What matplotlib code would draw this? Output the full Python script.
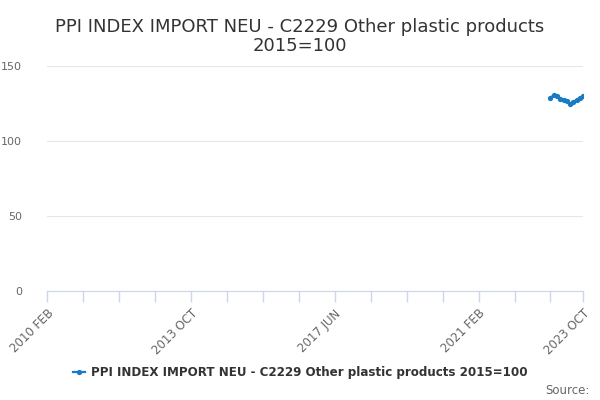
import matplotlib
matplotlib.use("Agg")
import matplotlib.pyplot as plt
import pandas as pd

months = pd.period_range("2010-02", "2023-10", freq="M")
categories = [f"{p.year} {p.strftime('%b').upper()}" for p in months]
data_months = ["2022 DEC", "2023 JAN", "2023 FEB", "2023 MAR", "2023 APR", "2023 MAY",
               "2023 JUN", "2023 JUL", "2023 AUG", "2023 SEP", "2023 OCT"]
values = [129.0, 130.5, 130.3, 128.0, 127.5, 127.0, 125.0, 126.0, 127.5, 128.7, 130.0]
series_name = "PPI INDEX IMPORT NEU - C2229 Other plastic products 2015=100"
yticks = [0, 50, 100, 150]
labelled = ["2010 FEB", "2013 OCT", "2017 JUN", "2021 FEB", "2023 OCT"]

fig = plt.figure(figsize=(6, 4), dpi=100)
ax = fig.add_axes([0.078, 0.2725, 0.894, 0.5625])

idx = [categories.index(m) for m in data_months]
ax.plot(idx, values, color="#1a7bc4", lw=1.6, marker="o", ms=2.8, label=series_name, zorder=3)

ax.set_xlim(0, len(categories) - 1)
ax.set_ylim(0, 150)
ax.set_yticks(yticks)
ax.set_yticklabels([str(v) for v in yticks], color="#666666", fontsize=8)
ax.grid(axis="y", color="#e6e6e6", lw=0.8)
ax.set_axisbelow(True)
tick_pos = list(range(0, len(categories), 11)) + [len(categories) - 1]
ax.set_xticks(tick_pos)
ax.set_xticklabels([categories[i] if categories[i] in labelled else "" for i in tick_pos],
                   rotation=45, ha="right", rotation_mode="anchor", color="#666666", fontsize=8.5)
ax.tick_params(axis="x", length=8, color="#ccd6eb", width=1)
ax.tick_params(axis="y", length=0, pad=18)
for s in ["top", "right", "left"]:
    ax.spines[s].set_visible(False)
ax.spines["bottom"].set_color("#ccd6eb")

fig.text(0.5, 0.955, "PPI INDEX IMPORT NEU - C2229 Other plastic products\n2015=100",
         ha="center", va="top", fontsize=13, color="#333333", linespacing=1.1)
leg = fig.legend(loc="center", bbox_to_anchor=(0.5, 0.068), frameon=False,
                 prop={"weight": "bold", "size": 8.6}, handlelength=1.0, handletextpad=0.5)
for t in leg.get_texts():
    t.set_color("#333333")
fig.text(0.982, 0.025, "Source:", ha="right", va="center", fontsize=8.5, color="#666666")
fig.savefig("out.png", dpi=100)
